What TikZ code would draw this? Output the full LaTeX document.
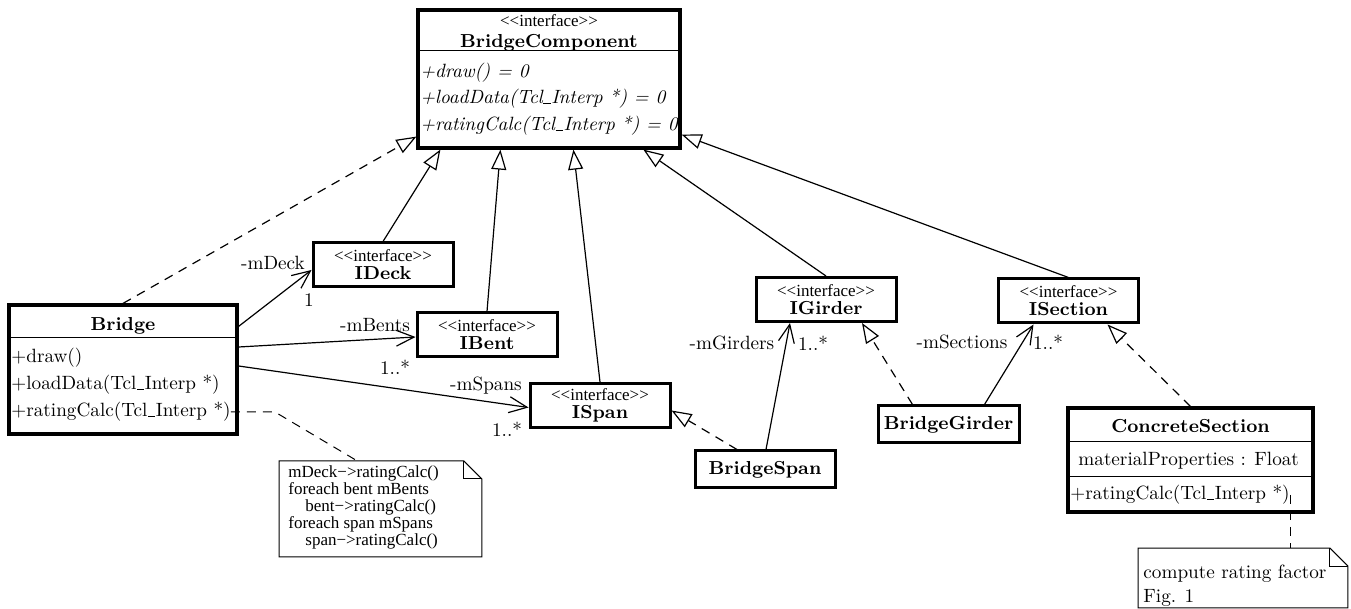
\documentclass[tikz,border=0pt]{standalone}
\usepackage{fontspec}
\newfontfamily\timesfont{Liberation Serif}
\usetikzlibrary{positioning,arrows.meta,calc}

\newcommand\stereo{{\timesfont\mdseries\fontsize{8.5}{9}\selectfont <\kern0pt<interface>\kern0pt>}}
\newcommand\us{\kern0.3pt\rule[-0.3pt]{3.6pt}{0.7pt}\kern0.3pt}
\newcommand\rmtxt{\fontsize{9.6}{11.5}\selectfont}
\newcommand\bftxt{\fontsize{9.4}{10}\selectfont\bfseries}

\tikzset{
  cls/.style={draw,line width=1.6pt,inner sep=0pt},
  iface/.style={draw,line width=1.5pt,align=center,inner sep=0pt,
    minimum width=70pt,minimum height=22pt,font=\bftxt},
  plainbox/.style={draw,line width=1.5pt,inner sep=0pt,
    minimum width=70pt,minimum height=18.5pt,font=\bftxt},
  member/.style={anchor=west,inner sep=0pt,font=\rmtxt},
  lbl/.style={inner sep=0pt,font=\rmtxt},
  divider/.style={line width=0.5pt},
  gen/.style={line width=0.6pt,-{Triangle[open,length=10pt,width=7.5pt,fill=white]}},
  real/.style={gen,dash pattern=on 4.5pt off 3.5pt},
  assoc/.style={line width=0.6pt,-{Straight Barb[length=9pt,width=8pt]}},
  notebox/.style={line width=0.5pt},
}

\begin{document}
\begin{tikzpicture}[x=0.5pt,y=-0.5pt]
  \useasboundingbox (0,0) rectangle (1351,609);
  \def\fold{18}

  % interface BridgeComponent
  \node[cls,minimum width=131pt,minimum height=69pt] (bc) at (549,79) {};
  \node[inner sep=0pt,align=center] (bcname) at (549,33)
    {\stereo\\[-1.5pt]{\bftxt BridgeComponent}};
  \draw[divider] ($(bc.north west)+(0,42)$) -- ($(bc.north east)+(0,42)$);
  \node[member] (bcm1) at (420,73) {\textit{+draw() = 0}};
  \node[member] (bcm2) at (420,99) {\textit{+loadData(Tcl\us Interp *) = 0}};
  \node[member] (bcm3) at (420,126) {\textit{+ratingCalc(Tcl\us Interp *) = 0}};

  % interfaces
  \node[iface] (ideck) at (383,265) {\stereo\\[-1pt]IDeck};
  \node[iface] (ibent) at (487,335) {\stereo\\[-1pt]IBent};
  \node[iface] (ispan) at (600,405.5) {\stereo\\[-1pt]ISpan};
  \node[iface] (igirder) at (826,299.5) {\stereo\\[-1pt]IGirder};
  \node[iface] (isection) at (1068.5,301) {\stereo\\[-1pt]ISection};

  % classes
  \node[plainbox] (bspan) at (765,469.5) {BridgeSpan};
  \node[plainbox,minimum width=70.5pt] (bgirder) at (948.5,424.5) {BridgeGirder};

  \node[cls,minimum width=114pt,minimum height=64.5pt] (bridge) at (123,369.5) {};
  \node[inner sep=0pt,font=\bftxt] (bridgename) at (123,326) {Bridge};
  \draw[divider] ($(bridge.north west)+(0,34)$) -- ($(bridge.north east)+(0,34)$);
  \node[member] (brm1) at (11,358) {+draw()};
  \node[member] (brm2) at (11,385) {+loadData(Tcl\us Interp *)};
  \node[member] (brm3) at (11,412) {+ratingCalc(Tcl\us Interp *)};

  \node[cls,minimum width=122.5pt,minimum height=52pt] (cs) at (1190.5,460) {};
  \node[inner sep=0pt,font=\bftxt] (csname) at (1190.5,426) {ConcreteSection};
  \draw[divider] ($(cs.north west)+(0,35)$) -- ($(cs.north east)+(0,35)$);
  \draw[divider] ($(cs.north west)+(0,70)$) -- ($(cs.north east)+(0,70)$);
  \node[member] (csa1) at (1078,461) {materialProperties : Float};
  \node[member] (csm1) at (1070,495) {+ratingCalc(Tcl\us Interp *)};

  % generalisation / realisation
  \draw[real] (bridge.north) -- ($(bc.south west)+(0,-13)$);
  \draw[gen] (ideck.north) -- ($(bc.south west)+(24,0)$);
  \draw[gen] (ibent.north) -- ($(bc.south west)+(84,0)$);
  \draw[gen] (ispan.north) -- ($(bc.south west)+(157,0)$);
  \draw[gen] (igirder.north) -- ($(bc.south west)+(227,0)$);
  \draw[gen] (isection.north) -- ($(bc.south east)+(0,-15)$);
  \draw[real] ($(bspan.north)+(-28,0)$) -- ($(ispan.east)+(0,5)$);
  \draw[real] ($(bgirder.north)+(-36,0)$) -- ($(igirder.south)+(36,0)$);
  \draw[real] (cs.north) -- ($(isection.south)+(39,0)$);

  % associations
  \draw[assoc] ($(bridge.north east)+(0,23)$) -- ($(ideck.west)+(0,5)$);
  \draw[assoc] ($(bridge.east)+(0,-22.5)$) -- ($(ibent.west)+(0,2)$);
  \draw[assoc] ($(bridge.east)+(0,-3.5)$) -- ($(ispan.west)+(0,2)$);
  \draw[assoc] ($(bspan.north)+(1,0)$) -- ($(igirder.south)+(-36,0)$);
  \draw[assoc] ($(bgirder.north)+(36,0)$) -- ($(isection.south)+(-35,0)$);
  \node[lbl] (ldeck) at (273,263) {-mDeck};
  \node[lbl] (mdeck) at (309,300) {1};
  \node[lbl] (lbents) at (375,325) {-mBents};
  \node[lbl] (mbents) at (395,367) {1..*};
  \node[lbl] (lspans) at (486,386) {-mSpans};
  \node[lbl] (mspans) at (507,429) {1..*};
  \node[lbl] (lgirders) at (732,343) {-mGirders};
  \node[lbl] (mgirders) at (813,343) {1..*};
  \node[lbl] (lsections) at (962,342) {-mSections};
  \node[lbl] (msections) at (1048,342) {1..*};

  % notes
  \node[inner sep=0pt,minimum width=101pt,minimum height=47.5pt,anchor=north west]
    (note1) at (279,461) {};
  \draw[notebox] (note1.south west) -- (note1.north west)
    -- ($(note1.north east)+(-\fold,0)$) -- ($(note1.north east)+(0,\fold)$)
    -- (note1.south east) -- cycle;
  \draw[notebox] ($(note1.north east)+(-\fold,0)$) -- ($(note1.north east)+(-\fold,\fold)$)
    -- ($(note1.north east)+(0,\fold)$);
  \node[anchor=north west,inner sep=0pt,align=left,
    font=\timesfont\fontsize{8.5}{8.6}\selectfont] (note1txt) at (288,465)
    {mDeck−>ratingCalc()\\foreach bent mBents\\\hspace*{1em}bent−>ratingCalc()\\
     foreach span mSpans\\\hspace*{1em}span−>ratingCalc()};
  \draw[notebox,dash pattern=on 4.5pt off 3.5pt] (brm3.east) -- ++(44,0)
    -- ($(note1.north)+(-23,0)$);

  \node[inner sep=0pt,minimum width=104.5pt,minimum height=29.5pt,anchor=north west]
    (note2) at (1138,548) {};
  \draw[notebox] (note2.south west) -- (note2.north west)
    -- ($(note2.north east)+(-\fold,0)$) -- ($(note2.north east)+(0,\fold)$)
    -- (note2.south east) -- cycle;
  \draw[notebox] ($(note2.north east)+(-\fold,0)$) -- ($(note2.north east)+(-\fold,\fold)$)
    -- ($(note2.north east)+(0,\fold)$);
  \node[anchor=north west,inner sep=0pt,align=left,font=\fontsize{9.6}{12}\selectfont]
    (note2txt) at (1143,565) {compute rating factor\\Fig. 1};
  \draw[notebox,dash pattern=on 4.5pt off 3.5pt] (csm1.east) -- (csm1.east |- note2.north);
\end{tikzpicture}
\end{document}
